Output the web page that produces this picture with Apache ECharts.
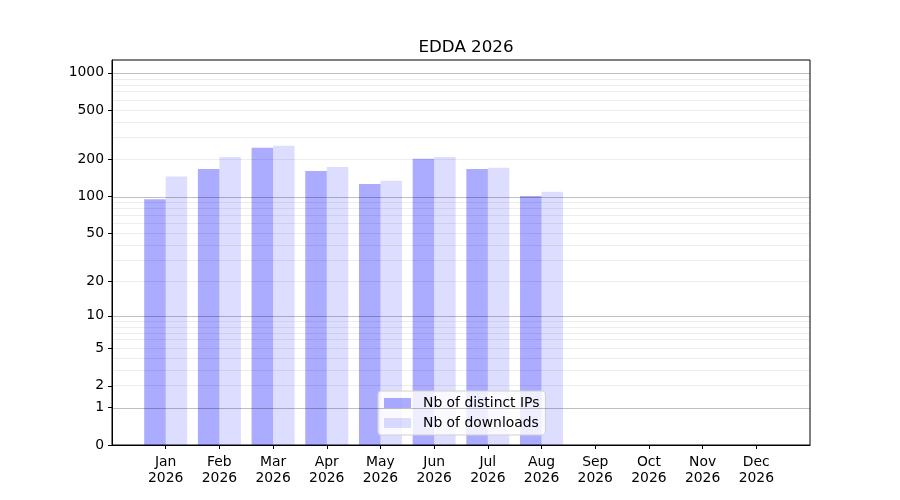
<!DOCTYPE html>
<html>
<head>
<meta charset="utf-8">
<title>EDDA 2026</title>
<script src="https://cdn.jsdelivr.net/npm/echarts@6/dist/echarts.min.js"></script>
<style>
  html, body { margin: 0; padding: 0; background: #fff; }
  #main { width: 900px; height: 500px; }
</style>
</head>
<body>
<div id="main"></div>
<script>
var months = ['Jan', 'Feb', 'Mar', 'Apr', 'May', 'Jun', 'Jul', 'Aug', 'Sep', 'Oct', 'Nov', 'Dec'];
var year = '2026';
var distinctIPs = [95, 167, 248, 161, 126, 202, 167, 101];
var downloads = [145, 209, 258, 173, 134, 209, 171, 109];
var yTicks = [0, 1, 2, 5, 10, 20, 50, 100, 200, 500, 1000];
var majorGrid = [1, 10, 100, 1000];
var minorGrid = [2, 3, 4, 5, 6, 7, 8, 9, 20, 30, 40, 50, 60, 70, 80, 90, 200, 300, 400, 500, 600, 700, 800, 900];
var yTop = 1270;

// y scale is log10(1 + v)
function tlog(v) { return Math.log10(1 + v); }

var font = 'DejaVu Sans';
var myChart = echarts.init(document.getElementById('main'));

var gridLines = [];
majorGrid.forEach(function (v) {
  gridLines.push({ yAxis: tlog(v), lineStyle: { color: 'rgba(0,0,0,0.25)', width: 1, type: 'solid' } });
});
minorGrid.forEach(function (v) {
  gridLines.push({ yAxis: tlog(v), lineStyle: { color: 'rgba(0,0,0,0.07)', width: 1, type: 'solid' } });
});

myChart.setOption({
  animation: false,
  title: {
    text: 'EDDA 2026',
    left: 461,
    top: 34,
    textAlign: 'center',
    textStyle: { fontFamily: font, fontSize: 16.7, fontWeight: 'normal', color: '#000' }
  },
  grid: {
    left: 112, right: 90, top: 60, bottom: 55,
    show: true, borderColor: '#000', borderWidth: 1
  },
  legend: {
    orient: 'vertical',
    left: 378,
    top: 391,
    icon: 'rect',
    itemWidth: 27,
    itemHeight: 10,
    itemGap: 6,
    padding: [5, 6, 5, 6],
    backgroundColor: 'rgba(255,255,255,0.8)',
    borderColor: '#d0d0d0',
    borderWidth: 1,
    borderRadius: 3,
    textStyle: { fontFamily: font, fontSize: 13.9, color: '#000', padding: [0, 0, 0, 7] },
    data: ['Nb of distinct IPs', 'Nb of downloads']
  },
  xAxis: {
    type: 'value',
    min: -1,
    max: 12,
    interval: 1,
    splitLine: { show: false },
    axisLine: { show: true, onZero: false, lineStyle: { color: '#000' } },
    axisTick: { show: true, length: 4, lineStyle: { color: '#000' }, customValues: months.map(function (m, i) { return i; }) },
    axisLabel: {
      customValues: months.map(function (m, i) { return i; }),
      formatter: function (v) { return months[v] + '\n' + year; },
      fontFamily: font, fontSize: 13.9, color: '#000', lineHeight: 16, margin: 9
    }
  },
  yAxis: {
    type: 'value',
    min: 0,
    max: tlog(yTop),
    splitLine: { show: false },
    axisLine: { show: true, onZero: false, lineStyle: { color: '#000' } },
    axisTick: { show: true, length: 4, lineStyle: { color: '#000' }, customValues: yTicks.map(tlog) },
    axisLabel: {
      customValues: yTicks.map(tlog),
      formatter: function (v) { return String(Math.round(Math.pow(10, v) - 1)); },
      fontFamily: font, fontSize: 13.9, color: '#000', margin: 8, padding: [6, 0, 0, 0]
    }
  },
  series: [
    {
      name: 'Nb of distinct IPs',
      type: 'bar',
      barWidth: 21.5,
      barGap: '0%',
      itemStyle: { color: 'rgba(0,0,255,0.33)' },
      data: distinctIPs.map(function (v, i) { return [i, tlog(v)]; }),
      markLine: {
        silent: true,
        symbol: 'none',
        label: { show: false },
        data: gridLines
      }
    },
    {
      name: 'Nb of downloads',
      type: 'bar',
      barWidth: 21.5,
      barGap: '0%',
      itemStyle: { color: 'rgba(0,0,255,0.135)' },
      data: downloads.map(function (v, i) { return [i, tlog(v)]; })
    }
  ]
});
</script>
</body>
</html>
